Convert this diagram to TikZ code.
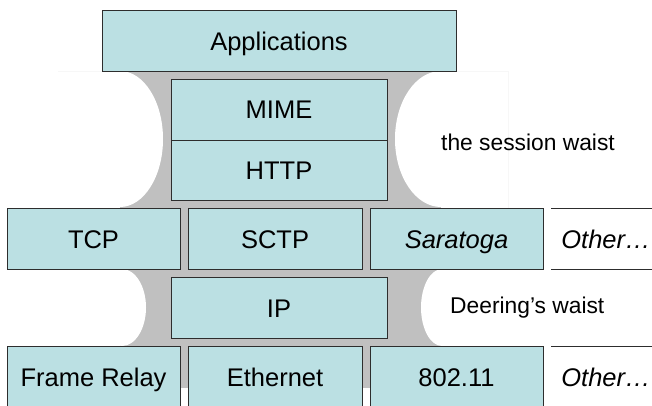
\documentclass[tikz,border=0pt]{standalone}
\usepackage{fontspec}
\setmainfont{Liberation Sans}
\definecolor{boxfill}{RGB}{187,224,227}
\definecolor{waist}{RGB}{192,192,192}
\definecolor{boxline}{RGB}{45,45,45}
\definecolor{faint}{RGB}{247,247,247}
\begin{document}
\begin{tikzpicture}[x=1pt,y=-1pt,
  layer/.style={draw=boxline, line width=0.9pt, fill=boxfill, inner sep=0pt,
    text height=19pt, text depth=0pt, font=\fontsize{25.5}{30}\selectfont},
  wide/.style={minimum width=354pt, minimum height=60.5pt},
  mid/.style={minimum width=216pt, minimum height=61pt},
  cell/.style={minimum width=173pt, minimum height=61pt},
  other/.style={inner sep=0pt, text height=19pt, text depth=0pt,
    font=\fontsize{25.5}{30}\selectfont\itshape},
  note/.style={font=\fontsize{22.8}{27}\selectfont, inner sep=0pt, anchor=base west},
  otherline/.style={draw=boxline, line width=0.9pt}]
\useasboundingbox (0,0) rectangle (652,406);
% grey waist backdrop
\fill[waist] (120,71) rectangle (441,388);
\fill[white] (120,139) ellipse [x radius=43, y radius=68];
\fill[white] (441,139) ellipse [x radius=46, y radius=68];
\fill[white] (122,307.5) ellipse [x radius=24, y radius=38.5];
\fill[white] (442,307.5) ellipse [x radius=21, y radius=38.5];
\draw[faint, line width=0.6pt] (58,71) -- (508,71) -- (508,208);
% layers
\node[layer, wide] (apps) at (279,40.75) {Applications};
\node[layer, mid] (mime) at (279,109.5) {MIME};
\node[layer, mid, minimum height=60pt] (http) at (279,170) {HTTP};
\node[layer, cell] (tcp) at (93.5,238.5) {TCP};
\node[layer, cell, minimum width=174pt] (sctp) at (275,238.5) {SCTP};
\node[layer, cell] (sara) at (456.5,238.5) {\itshape Saratoga};
\node[layer, mid] (ip) at (279,307.5) {IP};
\node[layer, cell] (fr) at (93.5,376.5) {Frame Relay};
\node[layer, cell, minimum width=174pt] (eth) at (275,376.5) {Ethernet};
\node[layer, cell] (wifi) at (456.5,376.5) {802.11};
% "Other" cells
\coordinate (o1a) at (551,208); \coordinate (o1b) at (653,208);
\coordinate (o1c) at (551,269); \coordinate (o1d) at (653,269);
\coordinate (o2a) at (551,346); \coordinate (o2b) at (653,346);
\draw[otherline] (o1a) -- (o1b);
\draw[otherline] (o1c) -- (o1d);
\draw[otherline] (o2a) -- (o2b);
\node[other] (oth1) at (606,238.5) {Other…};
\node[other] (oth2) at (606,376.5) {Other…};
% waist labels
\node[note] (sess) at (441,150) {the session waist};
\node[note] (deer) at (450,313) {Deering’s waist};
\end{tikzpicture}
\end{document}
